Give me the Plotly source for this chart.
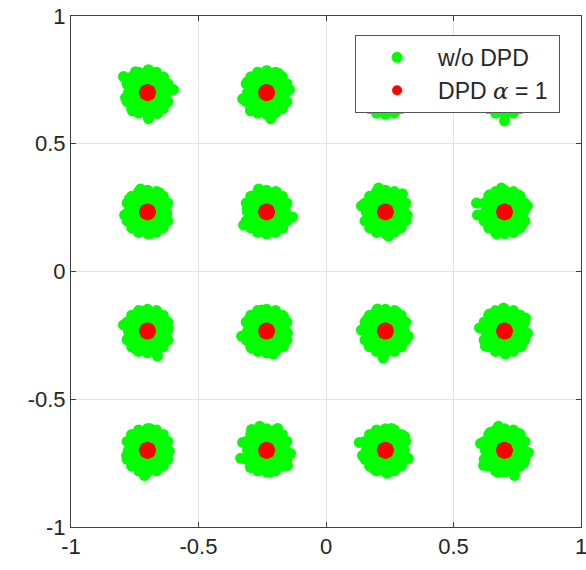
import plotly.graph_objects as go

# Constellation (16-QAM) centre levels
levels_i = [-0.7, -0.233, 0.233, 0.7]
levels_q = [0.7, 0.233, -0.233, -0.7]

# Tick values / labels
tick_vals = [-1, -0.5, 0, 0.5, 1]
tick_text = ["-1", "-0.5", "0", "0.5", "1"]

# Edge points of each green cloud (offset from its centre)
edge_A = [(-0.094, 0.063), (-0.047, 0.082), (0.004, 0.090), (0.063, 0.059), (0.102, 0.012), (0.075, -0.039),
          (0.039, -0.082), (0.004, -0.102), (-0.059, -0.071), (-0.086, -0.020), (-0.078, 0.031)]
edge_B = [(-0.094, -0.024), (-0.075, 0.043), (-0.031, 0.078), (0.047, 0.075), (0.090, 0.012), (0.075, -0.039),
          (0.016, -0.102), (-0.063, -0.071), (0.0, 0.086)]
edge_C = [(-0.02, 0.09), (0.06, 0.07), (0.09, 0.0), (0.06, -0.055), (0.0, -0.082), (-0.06, -0.06), (-0.09, 0.0),
          (-0.06, 0.06)]
edge_D = [(0.0, 0.09), (0.06, 0.065), (0.09, 0.0), (0.06, -0.06), (0.0, -0.11), (-0.06, -0.06), (-0.09, 0.01),
          (-0.06, 0.06)]
edge_E = [(-0.027, 0.090), (0.047, 0.075), (0.075, -0.012), (0.051, -0.063), (0.008, -0.086), (-0.047, -0.067),
          (-0.090, -0.012), (-0.071, 0.051)]
edge_F = [(-0.031, 0.090), (0.039, 0.078), (0.071, 0.035), (0.102, -0.020), (0.063, -0.063), (0.0, -0.086),
          (-0.090, -0.051), (-0.075, 0.012), (-0.055, 0.059)]
edge_G = [(-0.027, 0.094), (0.067, 0.071), (0.086, -0.012), (0.051, -0.063), (0.012, -0.094), (-0.059, -0.051),
          (-0.094, 0.024), (-0.059, 0.055)]
edge_H = [(-0.012, 0.094), (0.055, 0.067), (0.090, 0.024), (0.067, -0.051), (-0.031, -0.086), (-0.063, -0.039),
          (-0.110, 0.035), (-0.106, -0.012), (-0.059, 0.067)]
edge_I = [(-0.027, 0.078), (0.035, 0.078), (0.082, 0.008), (0.055, -0.051), (0.039, -0.098), (-0.008, -0.078),
          (-0.047, -0.071), (-0.094, 0.024), (-0.078, -0.031)]
edge_J = [(-0.020, 0.082), (0.067, 0.055), (0.082, -0.008), (0.067, -0.059), (0.027, -0.090), (-0.059, -0.067),
          (-0.098, -0.020), (-0.071, 0.043)]
edge_K = [(-0.031, 0.086), (0.043, 0.075), (0.090, -0.020), (0.063, -0.059), (-0.008, -0.106), (-0.063, -0.059),
          (-0.094, 0.004), (-0.071, 0.047)]
edge_L = [(-0.004, 0.090), (0.082, 0.051), (0.090, -0.008), (0.067, -0.059), (0.004, -0.090), (-0.075, -0.059),
          (-0.098, 0.012), (-0.059, 0.067)]
edge_M = [(0.008, 0.086), (0.055, 0.055), (0.086, -0.004), (0.055, -0.059), (-0.012, -0.098), (-0.055, -0.059),
          (-0.082, -0.020), (-0.063, 0.055)]
edge_N = [(-0.027, 0.094), (0.043, 0.086), (0.094, -0.012), (0.082, -0.059), (0.012, -0.086), (-0.063, -0.067),
          (-0.102, -0.031), (-0.094, 0.031), (-0.059, 0.082)]
edge_O = [(0.024, 0.086), (0.075, 0.055), (0.090, -0.031), (0.055, -0.059), (0.008, -0.090), (-0.047, -0.071),
          (-0.102, 0.031), (-0.090, -0.020), (-0.051, 0.059)]
edge_P = [(-0.024, 0.094), (0.055, 0.067), (0.094, -0.008), (0.075, -0.051), (0.039, -0.098), (-0.024, -0.086),
          (-0.082, -0.059), (-0.094, 0.027), (-0.055, 0.071)]

edges_by_row = [
    [edge_A, edge_B, edge_C, edge_D],
    [edge_E, edge_F, edge_G, edge_H],
    [edge_I, edge_J, edge_K, edge_L],
    [edge_M, edge_N, edge_O, edge_P],
]

# Dense inner body of each green cloud (offsets)
fill_dx = [-0.075, -0.05, -0.025, 0, 0.025, 0.05, 0.075,
           -0.07, -0.05, -0.025, 0, 0.025, 0.05, 0.07,
           -0.07, -0.05, -0.025, 0, 0.025, 0.05, 0.07,
           -0.05, -0.025, 0, 0.025, 0.05,
           -0.05, -0.025, 0, 0.025, 0.05,
           -0.025, 0, 0.025,
           -0.025, 0, 0.025,
           0.08, -0.08, 0.08, -0.08, 0.035, -0.035, 0.035, -0.035,
           0.062, -0.062, 0.062, -0.062, 0, 0]
fill_dy = [0, 0, 0, 0, 0, 0, 0,
           0.025, 0.025, 0.025, 0.025, 0.025, 0.025, 0.025,
           -0.025, -0.025, -0.025, -0.025, -0.025, -0.025, -0.025,
           0.05, 0.05, 0.05, 0.05, 0.05,
           -0.05, -0.05, -0.05, -0.05, -0.05,
           0.07, 0.07, 0.07,
           -0.07, -0.07, -0.07,
           0.035, 0.035, -0.035, -0.035, 0.08, 0.08, -0.08, -0.08,
           0.062, 0.062, -0.062, -0.062, 0.085, -0.085]

# Red (DPD) points around each centre (offsets)
red_dx = [0, 0.014, -0.014, 0, 0, 0.01, -0.01, 0.01, -0.01]
red_dy = [0, 0, 0, 0.014, -0.014, 0.01, -0.01, -0.01, 0.01]

gx, gy, rx, ry = [], [], [], []
for r, q in enumerate(levels_q):
    for c, i in enumerate(levels_i):
        for dx, dy in zip(fill_dx, fill_dy):
            gx.append(i + dx)
            gy.append(q + dy)
        for dx, dy in edges_by_row[r][c]:
            gx.append(i + dx)
            gy.append(q + dy)
        for dx, dy in zip(red_dx, red_dy):
            rx.append(i + dx)
            ry.append(q + dy)

FONT = "Liberation Sans, Arial, sans-serif"
AX = "#404040"

fig = go.Figure()
fig.add_trace(go.Scatter(x=gx, y=gy, mode="markers", name="w/o DPD",
                         marker=dict(color="#00ff00", size=11, line=dict(width=0))))
fig.add_trace(go.Scatter(x=rx, y=ry, mode="markers",
                         name="DPD <span style=\"font-family:'DejaVu Serif', serif\"><i>α</i></span> = 1\u00a0",
                         marker=dict(color="#ff0000", size=10, line=dict(width=0))))

axis_common = dict(range=[-1, 1], tickvals=tick_vals, ticktext=tick_text, showgrid=True,
                   gridcolor="#e3e3e3", gridwidth=1, zeroline=False, showline=True, linecolor=AX,
                   linewidth=1, mirror="ticks", ticks="inside", ticklen=5, tickcolor=AX,
                   ticklabeloverflow="allow", automargin=False,
                   tickfont=dict(family=FONT, size=22, color="#262626"))

fig.update_layout(
    width=586, height=570,
    margin=dict(l=71, r=5, t=16, b=43),
    plot_bgcolor="white", paper_bgcolor="white",
    xaxis=dict(**axis_common),
    yaxis=dict(**axis_common),
    showlegend=True,
    legend=dict(x=0.557, y=0.963, xanchor="left", yanchor="top",
                bgcolor="white", bordercolor="#555555", borderwidth=1,
                font=dict(family=FONT, size=23, color="#262626"),
                itemwidth=72, tracegroupgap=0),
)

fig.write_html("out.html")
